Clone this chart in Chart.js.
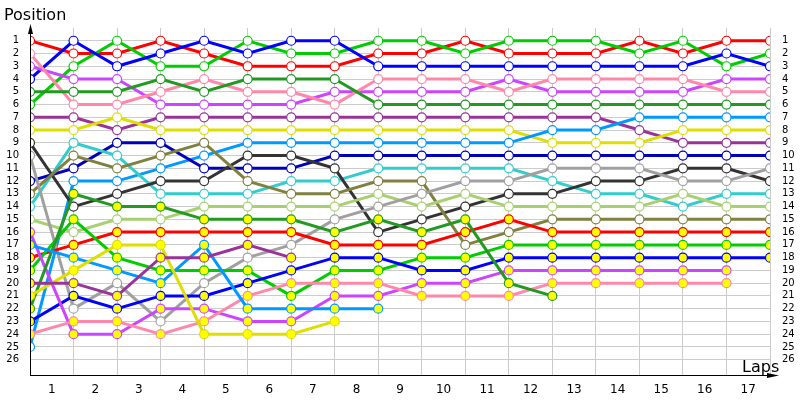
<!DOCTYPE html>
<html>
<head>
<meta charset="utf-8">
<script src="https://cdn.jsdelivr.net/npm/chart.js@4.4.0/dist/chart.umd.min.js"></script>
<style>
  html, body { margin: 0; background: #fff; }
</style>
</head>
<body>
<canvas id="race" width="800" height="400"></canvas>
<script>
// laps 0 (grid) .. 17
const laps = [0, 1, 2, 3, 4, 5, 6, 7, 8, 9, 10, 11, 12, 13, 14, 15, 16, 17];
const lapLabels = ['1', '2', '3', '4', '5', '6', '7', '8', '9', '10', '11', '12', '13', '14', '15', '16', '17'];
const positions = [1, 2, 3, 4, 5, 6, 7, 8, 9, 10, 11, 12, 13, 14, 15, 16, 17, 18, 19, 20, 21, 22, 23, 24, 25, 26];

// white filled markers
const red     = [1, 2, 2, 1, 2, 3, 3, 3, 2, 2, 1, 2, 2, 2, 1, 2, 1, 1];
const green   = [6, 3, 1, 3, 3, 1, 2, 2, 1, 1, 2, 1, 1, 1, 2, 1, 3, 2];
const blue    = [4, 1, 3, 2, 1, 2, 1, 1, 3, 3, 3, 3, 3, 3, 3, 3, 2, 3];
const violet  = [3, 4, 4, 6, 6, 6, 6, 5, 5, 5, 5, 4, 5, 5, 5, 5, 4, 4];
const pink    = [2, 6, 6, 5, 4, 5, 5, 6, 4, 4, 4, 5, 4, 4, 4, 4, 5, 5];
const dkgreen = [5, 5, 5, 4, 5, 4, 4, 4, 6, 6, 6, 6, 6, 6, 6, 6, 6, 6];
const purple  = [7, 7, 8, 7, 7, 7, 7, 7, 7, 7, 7, 7, 7, 7, 8, 9, 9, 9];
const yellow  = [8, 8, 7, 8, 8, 8, 8, 8, 8, 8, 8, 8, 9, 9, 9, 8, 8, 8];
const ltblue  = [25, 12, 12, 11, 10, 9, 9, 9, 9, 9, 9, 9, 8, 8, 7, 7, 7, 7];
const navy    = [12, 11, 9, 9, 11, 11, 11, 10, 10, 10, 10, 10, 10, 10, 10, 10, 10, 10];
const cyan    = [14, 9, 10, 13, 13, 13, 12, 12, 11, 11, 11, 11, 12, 13, 13, 14, 13, 13];
const olive   = [13, 10, 11, 10, 9, 12, 13, 13, 12, 12, 17, 16, 15, 15, 15, 15, 15, 15];
const black   = [9, 14, 13, 12, 12, 10, 10, 11, 16, 15, 14, 13, 13, 12, 12, 11, 11, 12];
const gray    = [10, 22, 20, 23, 20, 18, 17, 15, 14, 13, 12, 12, 11, 11, 11, 12, 12, 11];
const ltgreen = [15, 16, 15, 15, 14, 14, 14, 14, 13, 14, 13, 14, 14, 14, 14, 13, 14, 14];

// yellow filled markers
const redY     = [18, 17, 16, 16, 16, 16, 16, 17, 17, 17, 16, 15, 16, 16, 16, 16, 16, 16];
const greenY   = [19, 15, 18, 19, 19, 19, 21, 19, 19, 18, 18, 17, 17, 17, 17, 17, 17, 17];
const blueY    = [23, 21, 22, 21, 21, 20, 19, 18, 18, 19, 19, 18, 18, 18, 18, 18, 18, 18];
const violetY  = [16, 24, 24, 22, 22, 23, 23, 21, 21, 20, 20, 19, 19, 19, 19, 19, 19, null];
const pinkY    = [24, 23, 23, 24, 23, 21, 20, 20, 20, 21, 21, 21, 20, 20, 20, 20, 20, null];
const dkgreenY = [22, 13, 14, 14, 15, 15, 15, 16, 15, 16, 15, 20, 21, null, null, null, null, null];
const ltblueY  = [17, 18, 19, 20, 17, 22, 22, 22, 22, null, null, null, null, null, null, null, null, null];
const yellowY  = [21, 19, 17, 17, 24, 24, 24, 23, null, null, null, null, null, null, null, null, null, null];
const purpleY  = [20, 20, 21, 18, 18, 17, 18, null, null, null, null, null, null, null, null, null, null, null];

function driver(data, color, fill) {
    return {
        data: data,
        borderColor: color,
        backgroundColor: color,
        borderWidth: 3,
        pointRadius: 4.5,
        pointBorderWidth: 1.2,
        pointBorderColor: color,
        pointBackgroundColor: fill,
        tension: 0,
        spanGaps: false
    };
}

const W = '#ffffff', Y = '#ffff00';
const datasets = [
    driver(purpleY, '#993399', Y),
    driver(yellowY, '#dede00', Y),
    driver(ltblueY, '#0099ff', Y),
    driver(dkgreenY, '#229a22', Y),
    driver(pinkY, '#ff88aa', Y),
    driver(violetY, '#cc44ff', Y),
    driver(blueY, '#0000ff', Y),
    driver(greenY, '#00cc00', Y),
    driver(redY, '#ff0000', Y),
    driver(gray, '#a0a0a0', W),
    driver(ltgreen, '#a8d070', W),
    driver(olive, '#808040', W),
    driver(black, '#333333', W),
    driver(cyan, '#33cccc', W),
    driver(navy, '#0000bb', W),
    driver(ltblue, '#0099ff', W),
    driver(yellow, '#dede00', W),
    driver(purple, '#993399', W),
    driver(dkgreen, '#229a22', W),
    driver(pink, '#ff88aa', W),
    driver(violet, '#cc44ff', W),
    driver(blue, '#0000ff', W),
    driver(green, '#00cc00', W),
    driver(red, '#ff0000', W)
];

const tickFont = { family: 'Tahoma, "DejaVu Sans", sans-serif', size: 10 };

// axes lines, arrows and the two axis captions
const axisArrows = {
    id: 'axisArrows',
    afterDraw(chart) {
        const ctx = chart.ctx;
        const a = chart.chartArea;
        ctx.save();
        ctx.strokeStyle = '#000';
        ctx.fillStyle = '#000';
        ctx.lineWidth = 1;
        ctx.beginPath();
        ctx.moveTo(a.left + 0.5, a.bottom + 1);
        ctx.lineTo(a.left + 0.5, a.top - 2);
        ctx.moveTo(a.left, a.bottom + 0.5);
        ctx.lineTo(a.right + 6, a.bottom + 0.5);
        ctx.stroke();
        ctx.beginPath();
        ctx.moveTo(a.left + 0.5, a.top - 4);
        ctx.lineTo(a.left - 2, a.top + 6);
        ctx.lineTo(a.left + 3, a.top + 6);
        ctx.closePath();
        ctx.fill();
        ctx.beginPath();
        ctx.moveTo(a.right + 9, a.bottom + 0.5);
        ctx.lineTo(a.right - 3, a.bottom - 2);
        ctx.lineTo(a.right - 3, a.bottom + 3);
        ctx.closePath();
        ctx.fill();
        ctx.font = '16px Tahoma, "DejaVu Sans", sans-serif';
        ctx.textBaseline = 'alphabetic';
        ctx.fillText('Position', 4, 20);
        ctx.fillText('Laps', 742, 372);
        ctx.restore();
    }
};

new Chart(document.getElementById('race'), {
    type: 'line',
    data: { labels: laps, datasets: datasets },
    options: {
        responsive: false,
        animation: false,
        layout: { padding: { top: 28, left: 0, right: 0, bottom: 0 } },
        plugins: { legend: { display: false }, tooltip: { enabled: false } },
        scales: {
            x: {
                type: 'linear',
                min: 0,
                max: 17,
                afterBuildTicks: (s) => { s.ticks = laps.map(v => ({ value: v })); },
                afterFit: (s) => { s.height = 0; },
                grid: { color: '#cccccc', lineWidth: 1, drawTicks: false },
                border: { display: false },
                ticks: { display: false }
            },
            x2: {
                type: 'linear',
                position: 'bottom',
                min: 0,
                max: 17,
                afterBuildTicks: (s) => { s.ticks = lapLabels.map((t, i) => ({ value: i + 0.5 })); },
                afterFit: (s) => { s.height = 25; },
                grid: { display: false },
                border: { display: false },
                ticks: {
                    font: { family: 'Tahoma, "DejaVu Sans", sans-serif', size: 12 },
                    color: '#000',
                    padding: 0,
                    autoSkip: false,
                    maxRotation: 0,
                    callback: (v, i) => lapLabels[i]
                }
            },
            y: {
                type: 'linear',
                reverse: true,
                min: 0,
                max: 27.2,
                afterBuildTicks: (s) => { s.ticks = positions.map(v => ({ value: v })); },
                afterFit: (s) => { s.width = 30; },
                grid: { color: '#cccccc', lineWidth: 1, drawTicks: false },
                border: { display: false },
                ticks: {
                    font: tickFont,
                    color: '#000',
                    padding: 11,
                    autoSkip: false,
                    callback: (v) => String(v)
                }
            },
            y2: {
                type: 'linear',
                position: 'right',
                reverse: true,
                min: 0,
                max: 27.2,
                afterBuildTicks: (s) => { s.ticks = positions.map(v => ({ value: v })); },
                afterFit: (s) => { s.width = 30; },
                grid: { display: false },
                border: { display: false },
                ticks: {
                    font: tickFont,
                    color: '#000',
                    padding: 4,
                    autoSkip: false,
                    callback: (v) => String(v)
                }
            }
        }
    },
    plugins: [axisArrows]
});
</script>
</body>
</html>
